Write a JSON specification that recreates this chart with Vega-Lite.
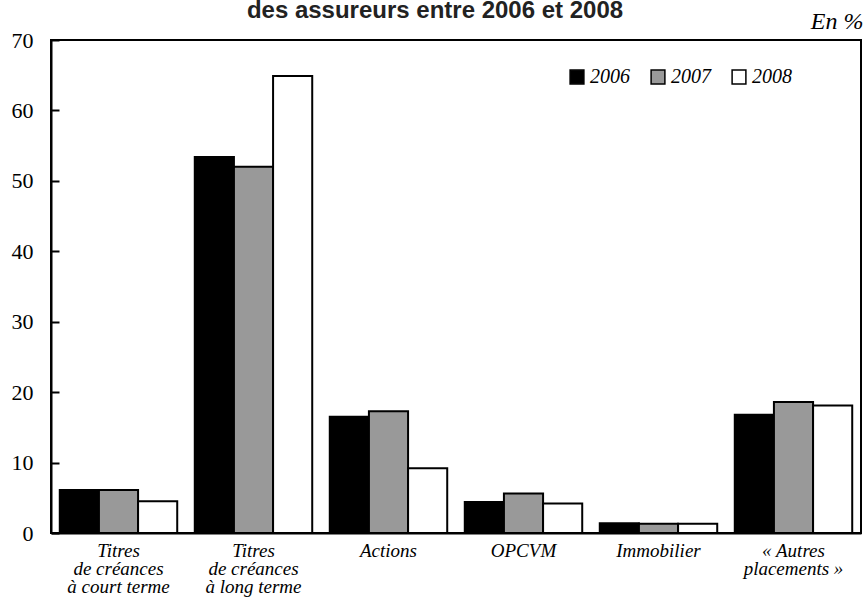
{
  "$schema": "https://vega.github.io/schema/vega-lite/v6.json",
  "width": 810,
  "height": 493,
  "autosize": {"type": "none"},
  "padding": {"left": 51, "top": 40, "right": 2, "bottom": 64},
  "background": "white",
  "title": {
    "text": "des assureurs entre 2006 et 2008",
    "font": "Liberation Sans",
    "fontWeight": "bold",
    "fontSize": 24,
    "color": "#222222",
    "anchor": "middle",
    "dx": -21,
    "baseline": "alphabetic",
    "offset": -33
  },
  "data": {
    "values": [
      {"cat": "Titres|de créances|à court terme", "year": "2006", "value": 6.1},
      {"cat": "Titres|de créances|à court terme", "year": "2007", "value": 6.1},
      {"cat": "Titres|de créances|à court terme", "year": "2008", "value": 4.5},
      {"cat": "Titres|de créances|à long terme", "year": "2006", "value": 53.4},
      {"cat": "Titres|de créances|à long terme", "year": "2007", "value": 52.0},
      {"cat": "Titres|de créances|à long terme", "year": "2008", "value": 64.9},
      {"cat": "Actions", "year": "2006", "value": 16.5},
      {"cat": "Actions", "year": "2007", "value": 17.3},
      {"cat": "Actions", "year": "2008", "value": 9.2},
      {"cat": "OPCVM", "year": "2006", "value": 4.4},
      {"cat": "OPCVM", "year": "2007", "value": 5.6},
      {"cat": "OPCVM", "year": "2008", "value": 4.2},
      {"cat": "Immobilier", "year": "2006", "value": 1.4},
      {"cat": "Immobilier", "year": "2007", "value": 1.3},
      {"cat": "Immobilier", "year": "2008", "value": 1.3},
      {"cat": "« Autres|placements »", "year": "2006", "value": 16.8},
      {"cat": "« Autres|placements »", "year": "2007", "value": 18.6},
      {"cat": "« Autres|placements »", "year": "2008", "value": 18.1}
    ]
  },
  "mark": {"type": "bar", "stroke": "#000000", "strokeWidth": 2},
  "encoding": {
    "x": {
      "field": "cat",
      "type": "nominal",
      "sort": null,
      "scale": {"paddingInner": 0.13, "paddingOuter": 0.065},
      "axis": {
        "title": null,
        "labelAngle": 0,
        "labelExpr": "split(datum.label, '|')",
        "labelFont": "Liberation Serif",
        "labelFontStyle": "italic",
        "labelFontSize": 19,
        "labelLineHeight": 18,
        "labelColor": "#000000",
        "labelPadding": 8,
        "ticks": false,
        "domainColor": "#000000",
        "domainWidth": 2
      }
    },
    "xOffset": {"field": "year", "type": "nominal", "scale": {"paddingInner": 0, "paddingOuter": 0}},
    "y": {
      "field": "value",
      "type": "quantitative",
      "scale": {"domain": [0, 70], "nice": false},
      "axis": {
        "values": [0, 10, 20, 30, 40, 50, 60, 70],
        "grid": false,
        "tickSize": -8,
        "tickWidth": 2,
        "tickColor": "#000000",
        "domainColor": "#000000",
        "domainWidth": 2,
        "labelFont": "Liberation Serif",
        "labelFontSize": 22,
        "labelColor": "#000000",
        "labelPadding": 26,
        "title": "En %",
        "titleFont": "Liberation Serif",
        "titleFontStyle": "italic",
        "titleFontWeight": "normal",
        "titleFontSize": 24,
        "titleColor": "#000000",
        "titleAngle": 0,
        "titleAlign": "right",
        "titleBaseline": "alphabetic",
        "titleX": 812,
        "titleY": -12
      }
    },
    "fill": {
      "field": "year",
      "type": "nominal",
      "scale": {"domain": ["2006", "2007", "2008"], "range": ["#000000", "#999999", "#ffffff"]},
      "legend": {
        "title": null,
        "orient": "none",
        "direction": "horizontal",
        "legendX": 516,
        "legendY": 27,
        "symbolType": "square",
        "symbolSize": 190,
        "symbolStrokeColor": "#000000",
        "symbolStrokeWidth": 1.5,
        "symbolOpacity": 1,
        "labelFont": "Liberation Serif",
        "labelFontStyle": "italic",
        "labelFontSize": 20,
        "labelColor": "#000000",
        "labelOffset": 3,
        "columnPadding": 18
      }
    }
  },
  "config": {
    "view": {"stroke": "#000000", "strokeWidth": 2}
  }
}
